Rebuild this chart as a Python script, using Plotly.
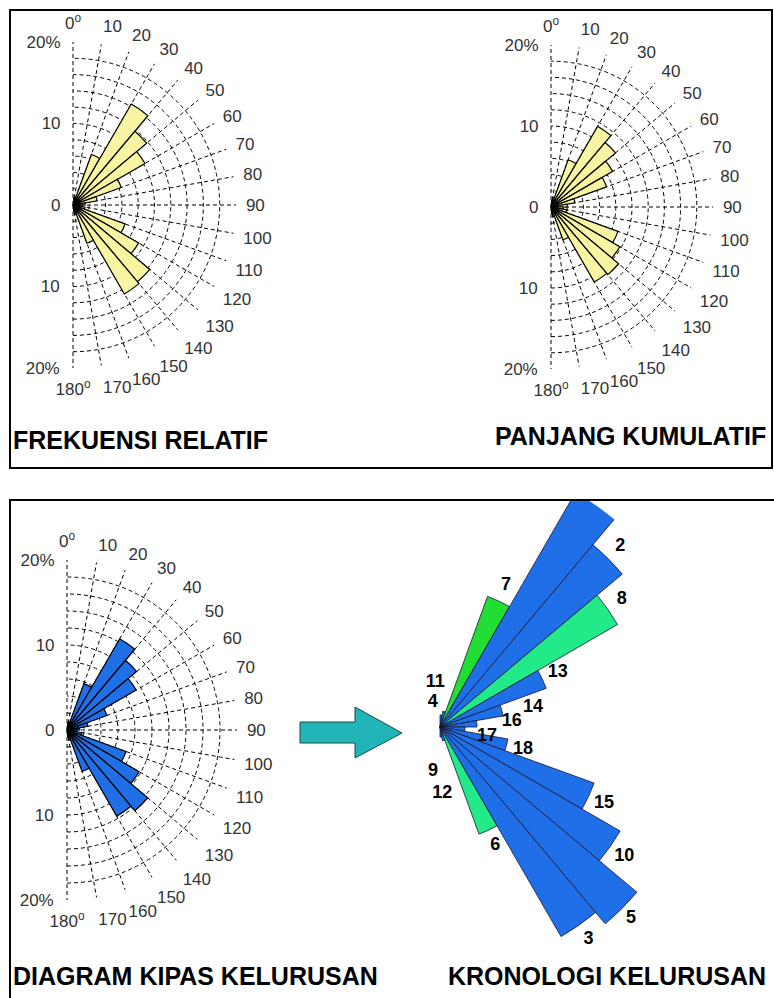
import plotly.graph_objects as go

W, H = 774, 998

# ---------------- data ----------------
bin_start = list(range(0, 180, 10))
bin_center = [b + 5 for b in bin_start]
bin_width = [10] * len(bin_center)

# relative frequency (%) per 10-degree class
frekuensi_relatif = [0.8, 1.0, 6.6, 14.3, 11.8, 10.2, 6.3, 3.0, 1.5,
                     1.2, 1.5, 6.8, 9.3, 12.3, 12.6, 5.0, 1.2, 0.8]
# cumulative length (%) per class
panjang_kumulatif = [0.8, 1.2, 6.2, 11.5, 10.4, 8.8, 7.3, 3.0, 2.0,
                     1.5, 2.0, 8.8, 9.8, 10.9, 10.7, 4.3, 1.2, 0.8]
# lineament fan diagram (%) per class
kipas_kelurusan = [0.8, 1.0, 5.8, 12.4, 10.7, 9.4, 5.0, 2.5, 1.5,
                   1.2, 1.8, 7.4, 9.8, 12.4, 11.7, 5.2, 1.2, 0.8]

# chronology: order number and relative length per class
kronologi_nomor = ["11", "4", "7", "1", "2", "8", "13", "14", "16",
                   "17", "18", "15", "10", "5", "3", "6", "12", "9"]
kronologi_panjang = [1.2, 1.6, 13.9, 28.5, 23.8, 20.5, 11.3, 6.4, 3.7,
                     2.5, 6.9, 16.4, 20.8, 25.7, 24.2, 11.4, 1.4, 1.0]
kronologi_kelompok = ["b", "b", "g", "b", "b", "l", "b", "b", "b",
                      "b", "b", "b", "b", "b", "b", "l", "b", "b"]

angular_ticks = list(range(0, 181, 10))
angular_text = ["0<sup>o</sup>"] + [str(a) for a in angular_ticks[1:-1]] + ["180<sup>o</sup>"]
radial_ticks = list(range(0, 21, 2))
radial_text_up = {0: "0", 10: "10", 20: "20%"}
radial_text_down = {10: "10", 20: "20%"}

# ---------------- style ----------------
FONT = "Liberation Sans, Arial, sans-serif"
YELLOW = "#F8F4A2"
BLUE = "#1F6FE6"
KRON_COLORS = {"b": "#1F70E8", "g": "#22DD33", "l": "#22EA88"}
DASH = "4px,3px"
TICKFONT = dict(family=FONT, size=17, color="#333333")
CLEAR = "rgba(0,0,0,0)"


def px(x):
    return x / W


def py(y):
    return 1 - y / H


def half_domain(cx, cy, R):
    return dict(x=[px(cx), px(cx + R)], y=[py(cy + R), py(cy - R)])


def main_polar(cx, cy, R):
    return dict(
        domain=half_domain(cx, cy, R),
        sector=[-90, 90],
        bgcolor=CLEAR,
        angularaxis=dict(
            rotation=90, direction="clockwise",
            tickmode="array", tickvals=angular_ticks, ticktext=angular_text,
            showline=False, ticks="outside", ticklen=6, tickcolor=CLEAR,
            showgrid=True, gridcolor="black", gridwidth=1, griddash=DASH,
            layer="below traces", tickfont=TICKFONT,
        ),
        radialaxis=dict(
            range=[0, 20], angle=90, side="counterclockwise",
            tickmode="array", tickvals=radial_ticks,
            ticktext=[radial_text_up.get(v, "") for v in radial_ticks],
            showline=False, ticks="outside", ticklen=6, tickcolor=CLEAR,
            showgrid=True, gridcolor="black", gridwidth=1, griddash=DASH,
            layer="below traces", tickangle=90, tickfont=TICKFONT,
        ),
    )


def label_polar(cx, cy, R):
    return dict(
        domain=half_domain(cx, cy, R),
        sector=[-90, 90],
        bgcolor=CLEAR,
        angularaxis=dict(visible=False, rotation=90, direction="clockwise"),
        radialaxis=dict(
            range=[0, 20], angle=-90, side="clockwise",
            tickmode="array", tickvals=list(radial_text_down.keys()),
            ticktext=list(radial_text_down.values()),
            showline=False, ticks="outside", ticklen=6, tickcolor=CLEAR,
            showgrid=False, tickangle=-90, tickfont=TICKFONT,
        ),
    )


roses = [
    ("polar", "polar2", frekuensi_relatif, YELLOW, (73, 205, 163)),
    ("polar3", "polar4", panjang_kumulatif, YELLOW, (551, 207, 162)),
    ("polar5", "polar6", kipas_kelurusan, BLUE, (67, 730, 170)),
]

fig = go.Figure()
layout_polars = {}
for main, lab, vals, col, (cx, cy, R) in roses:
    fig.add_trace(go.Barpolar(
        r=vals, theta=bin_center, width=bin_width, subplot=main,
        marker=dict(color=col, line=dict(color="black", width=1.2)),
        hoverinfo="skip"))
    fig.add_trace(go.Scatterpolar(r=[], theta=[], subplot=lab, mode="markers"))
    layout_polars[main] = main_polar(cx, cy, R)
    layout_polars[lab] = label_polar(cx, cy, R)

# chronology rose (full-circle subplot, only the eastern half carries data)
KC, KY, KR = 440, 727, 271
kron_max = KR / 10.0
fig.add_trace(go.Barpolar(
    r=kronologi_panjang, theta=bin_center, width=bin_width, subplot="polar7",
    marker=dict(color=[KRON_COLORS[k] for k in kronologi_kelompok],
                line=dict(color="#141433", width=0.8)),
    hoverinfo="skip"))

# label placement: just beyond the petal end, except where the reference
# puts the number elsewhere
label_override = {"11": (4.5, 354), "4": (2.6, 344), "9": (4.5, 189),
                  "12": (6.7, 178), "14": (9.5, 78), "16": (7.2, 86),
                  "17": (4.8, 102)}
lab_r, lab_t, lab_s = [], [], []
for n, v, t in zip(kronologi_nomor, kronologi_panjang, bin_center):
    r, th = label_override.get(n, (v + 1.7, t))
    if r > kron_max + 1.0:
        continue  # petal runs out of the frame, its number is not shown
    lab_r.append(min(r, kron_max * 0.997))
    lab_t.append(th)
    lab_s.append(n)
fig.add_trace(go.Scatterpolar(
    r=lab_r, theta=lab_t, text=lab_s, mode="text", subplot="polar7",
    cliponaxis=False,
    textfont=dict(family=FONT, size=18, color="black", weight="bold"),
    hoverinfo="skip"))

layout_polars["polar7"] = dict(
    domain=dict(x=[px(KC - KR), px(KC + KR)], y=[py(KY + KR), py(KY - KR)]),
    bgcolor=CLEAR,
    angularaxis=dict(visible=False, rotation=90, direction="clockwise"),
    radialaxis=dict(visible=False, range=[0, kron_max]),
)

shapes = [
    # mask for the part of the long petal above the lower frame
    dict(type="rect", xref="paper", yref="paper", x0=px(380), x1=1.0,
         y0=py(499), y1=py(440), fillcolor="white", line=dict(width=0), layer="above"),
    # frames
    dict(type="rect", xref="paper", yref="paper", x0=px(10), x1=px(772),
         y0=py(468), y1=py(10), line=dict(color="black", width=2), layer="above"),
    dict(type="rect", xref="paper", yref="paper", x0=px(10), x1=px(776),
         y0=py(1002), y1=py(500), line=dict(color="black", width=2), layer="above"),
    # arrow
    dict(type="path", xref="paper", yref="paper",
         path="M {a},{b} L {c},{b} L {c},{d} L {e},{f} L {c},{g} L {c},{h} L {a},{h} Z".format(
             a=px(300), b=py(722), c=px(355), d=py(707), e=px(402), f=py(733),
             g=py(758), h=py(743)),
         fillcolor="#22B5B8", line=dict(color="#17494A", width=1), layer="above"),
]

TITLEFONT = dict(family=FONT, size=25, color="black", weight="bold")
annotations = [
    dict(text="FREKUENSI RELATIF", x=px(11), y=py(440), xref="paper", yref="paper",
         xanchor="left", yanchor="middle", showarrow=False, font=TITLEFONT),
    dict(text="PANJANG KUMULATIF", x=px(768), y=py(436), xref="paper", yref="paper",
         xanchor="right", yanchor="middle", showarrow=False, font=TITLEFONT),
    dict(text="DIAGRAM KIPAS KELURUSAN", x=px(11), y=py(976), xref="paper", yref="paper",
         xanchor="left", yanchor="middle", showarrow=False, font=TITLEFONT),
    dict(text="KRONOLOGI KELURUSAN", x=px(768), y=py(976), xref="paper", yref="paper",
         xanchor="right", yanchor="middle", showarrow=False, font=TITLEFONT),
]

fig.update_layout(
    width=W, height=H,
    margin=dict(l=0, r=0, t=0, b=0),
    paper_bgcolor="white", plot_bgcolor="white",
    showlegend=False,
    shapes=shapes, annotations=annotations,
    **layout_polars,
)

fig.write_html("out.html", config={"displayModeBar": False},
               post_script="document.body.style.margin='0px';document.body.style.overflow='hidden';")
